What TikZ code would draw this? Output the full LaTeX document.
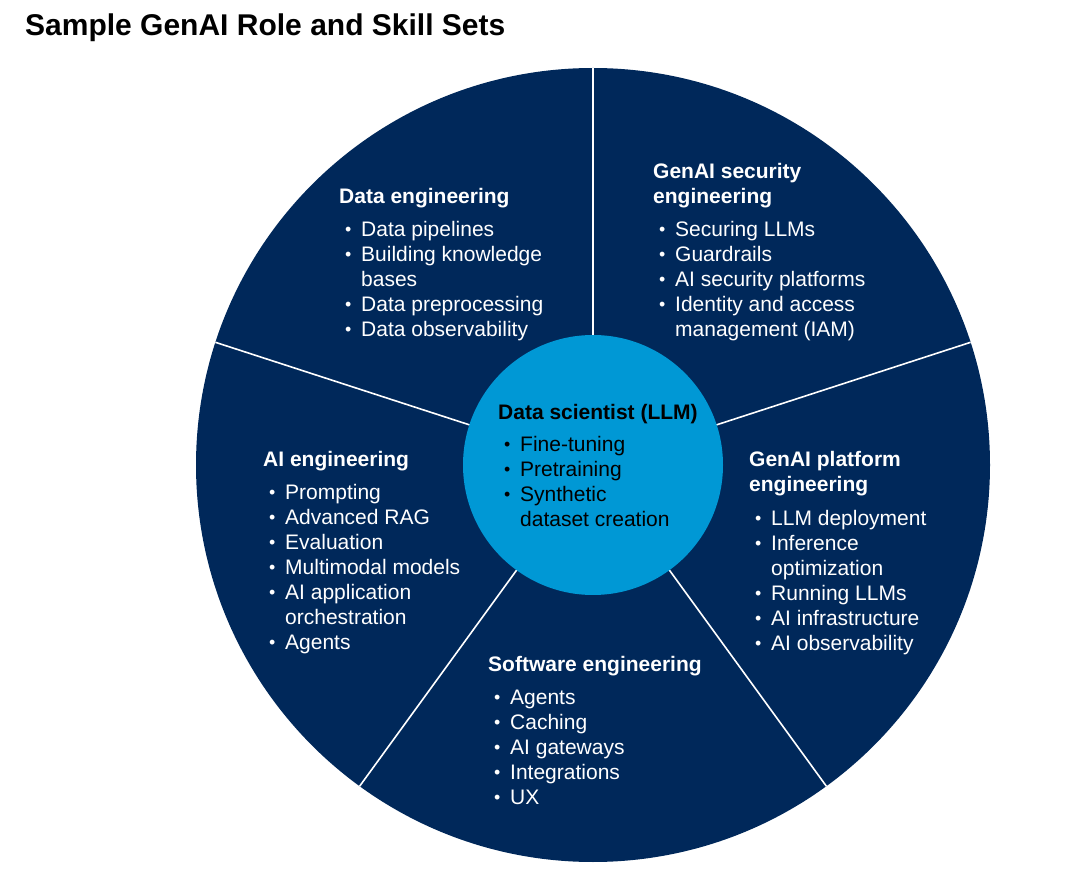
\documentclass[tikz,border=0pt]{standalone}
\usepackage{fontspec}
\setmainfont{Liberation Sans}
\usepackage{graphicx}
\usepackage{tikz}
\usetikzlibrary{positioning}
\definecolor{navy}{HTML}{00285A}
\definecolor{sky}{HTML}{0098D5}
\newcommand{\skill}[1]{\hspace*{6pt}\makebox[16pt][l]{\raisebox{1.5pt}{\scalebox{0.85}{\textbullet}}}#1}
\newcommand{\skillcont}[1]{\hspace*{22pt}#1}
\tikzset{
  spoke/.style={draw=white,line width=1.6pt},
  sector/.style={anchor=north west,inner sep=0pt,align=left,text=white,
    font=\fontsize{21}{25}\selectfont},
}

\begin{document}
\begin{tikzpicture}[x=1pt,y=-1pt]
  \useasboundingbox (0,0) rectangle (1080,874);
  \node[anchor=base west,inner sep=0pt,font=\fontsize{30}{34}\selectfont\bfseries] (title) at (25,36) {Sample GenAI Role and Skill Sets};

  % wheel
  \coordinate (c) at (593,465);
  \fill[navy] (c) circle (397);
  \foreach \a in {-90,-18,54,126,-162} {
    \draw[spoke] (c) -- ++(\a:397);
  }
  \fill[sky] (c) circle (130);

  % sectors
  \node[sector] (data) at (339,186) {\strut\textbf{Data engineering}\\[8pt]
    \skill{Data pipelines}\\ \skill{Building knowledge}\\ \skillcont{bases}\\
    \skill{Data preprocessing}\\ \skill{Data observability}};
  \node[sector] (security) at (653,161) {\strut\textbf{GenAI security}\\ \textbf{engineering}\\[8pt]
    \skill{Securing LLMs}\\ \skill{Guardrails}\\ \skill{AI security platforms}\\
    \skill{Identity and access}\\ \skillcont{management (IAM)}};
  \node[sector] (aieng) at (263,449) {\strut\textbf{AI engineering}\\[8pt]
    \skill{Prompting}\\ \skill{Advanced RAG}\\ \skill{Evaluation}\\
    \skill{Multimodal models}\\ \skill{AI application}\\ \skillcont{orchestration}\\
    \skill{Agents}};
  \node[sector] (platform) at (749,449) {\strut\textbf{GenAI platform}\\ \textbf{engineering}\\[9pt]
    \skill{LLM deployment}\\ \skill{Inference}\\ \skillcont{optimization}\\
    \skill{Running LLMs}\\ \skill{AI infrastructure}\\ \skill{AI observability}};
  \node[sector] (software) at (488,654) {\strut\textbf{Software engineering}\\[8pt]
    \skill{Agents}\\ \skill{Caching}\\ \skill{AI gateways}\\
    \skill{Integrations}\\ \skill{UX}};
  \node[sector,text=black] (scientist) at (498,402) {\strut\textbf{Data scientist (LLM)}\\[7pt]
    \skill{Fine-tuning}\\ \skill{Pretraining}\\ \skill{Synthetic}\\
    \skillcont{dataset creation}};
\end{tikzpicture}
\end{document}
